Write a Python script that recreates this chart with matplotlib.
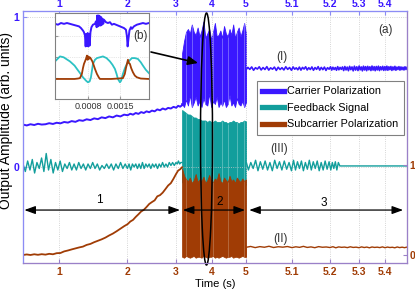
import numpy as np
import matplotlib
matplotlib.use('Agg')
import matplotlib.pyplot as plt
from matplotlib.lines import Line2D
from matplotlib.patches import Ellipse

plt.rcParams['font.family'] = ['Liberation Sans', 'DejaVu Sans']

blue = '#3a17ff'
teal = '#129e9c'
brown = '#a03c05'
teal_in = '#2cc2c4'

# the time axis of the original figure is stretched piecewise
t_knots = [0.47, 1, 2, 3, 4, 5, 5.1, 5.2, 5.3, 5.4, 5.49]
px_knots = [23, 59, 127, 176, 212, 246, 292, 330, 359, 385, 407]

def fwd(t):
    return np.interp(t, t_knots, px_knots)

def inv(p):
    return np.interp(p, px_knots, t_knots)

xticks = [1, 2, 3, 4, 5, 5.1, 5.2, 5.3, 5.4]
xlabels = ['1', '2', '3', '4', '5', '5.1', '5.2', '5.3', '5.4']

# ---- region 1 (slow build up), t = 0.47 .. 3.17
t1 = np.linspace(0.47, 3.17, 50)
t1f = np.linspace(0.47, 3.17, 80)
carrier_1 = [0.283, 0.277, 0.285, 0.280, 0.288, 0.283, 0.285, 0.292, 0.287, 0.295,
             0.291, 0.300, 0.296, 0.306, 0.301, 0.312, 0.308, 0.318, 0.313, 0.324,
             0.319, 0.331, 0.326, 0.337, 0.331, 0.343, 0.337, 0.349, 0.345, 0.355,
             0.349, 0.360, 0.354, 0.366, 0.360, 0.371, 0.365, 0.376, 0.371, 0.384,
             0.378, 0.390, 0.383, 0.394, 0.390, 0.401, 0.395, 0.408, 0.402, 0.412]
feedback_1 = [0.02, -0.03, 0.04, -0.02, 0.05, -0.04, 0.03, -0.01, 0.06, -0.03,
              0.09, -0.02, 0.05, -0.04, 0.03, -0.02, 0.04, -0.03, 0.02, -0.01,
              0.03, -0.02, 0.02, -0.02, 0.03, -0.01, 0.02, -0.02, 0.02, -0.01,
              0.03, -0.01, 0.02, -0.02, 0.01, -0.01, 0.02, -0.01, 0.02, -0.02,
              0.02, -0.01, 0.03, -0.01, 0.02, -0.01, 0.02, -0.02, 0.02, 0.00,
              0.02, -0.01, 0.02, -0.01, 0.03, -0.01, 0.02, 0.00, 0.02, -0.01,
              0.02, 0.00, 0.02, -0.01, 0.02, 0.00, 0.03, 0.00, 0.02, 0.00,
              0.03, 0.01, 0.03, 0.01, 0.03, 0.02, 0.04, 0.02, 0.03, 0.03]
subcarrier_1 = [0.000, 0.006, 0.000, 0.008, 0.002, 0.009, 0.004, 0.013, 0.008, 0.020,
                0.022, 0.040, 0.050, 0.062, 0.073, 0.084, 0.093, 0.112, 0.123, 0.142,
                0.158, 0.174, 0.193, 0.217, 0.238, 0.264, 0.292, 0.320, 0.343, 0.372,
                0.390, 0.423, 0.452, 0.483, 0.502, 0.533, 0.567, 0.588, 0.607, 0.652,
                0.665, 0.693, 0.732, 0.772, 0.798, 0.848, 0.902, 0.938, 0.952, 0.975]

# ---- region 2 (strong oscillation), t = 3.17 .. 5.0 : upper / lower swing
t2 = np.linspace(3.17, 5.0, 35)
carrier_2_hi = [0.76, 0.84, 0.90, 0.92, 0.89, 0.95, 0.90, 0.88, 0.93, 0.87, 0.91, 0.97,
                0.86, 0.89, 0.92, 0.85, 0.90, 0.96, 0.87, 0.88, 0.91, 0.86, 0.94, 0.89,
                0.87, 0.92, 0.88, 0.95, 0.86, 0.90, 0.93, 0.87, 0.91, 0.96, 0.89]
carrier_2_lo = [0.42, 0.40, 0.45, 0.41, 0.48, 0.40, 0.43, 0.47, 0.41, 0.44, 0.40, 0.46,
                0.42, 0.41, 0.49, 0.40, 0.44, 0.42, 0.47, 0.40, 0.43, 0.41, 0.45, 0.40,
                0.42, 0.48, 0.41, 0.43, 0.40, 0.46, 0.42, 0.41, 0.44, 0.40, 0.43]
feedback_2_hi = [0.38, 0.37, 0.36, 0.35, 0.35, 0.34, 0.33, 0.33, 0.32, 0.32, 0.31, 0.31,
                 0.31, 0.30, 0.31, 0.30, 0.30, 0.31, 0.30, 0.30, 0.30, 0.31, 0.30, 0.30,
                 0.29, 0.30, 0.30, 0.31, 0.30, 0.30, 0.29, 0.30, 0.30, 0.31, 0.30]
feedback_2_lo = [-0.10, -0.12, -0.11, -0.12, -0.13, -0.11, -0.12, -0.12, -0.11, -0.13,
                 -0.12, -0.11, -0.12, -0.13, -0.12, -0.11, -0.12, -0.12, -0.13, -0.11,
                 -0.12, -0.12, -0.11, -0.13, -0.12, -0.12, -0.11, -0.12, -0.13, -0.12,
                 -0.11, -0.12, -0.12, -0.13, -0.12]
subcarrier_2_hi = [0.96, 0.88, 0.84, 0.82, 0.86, 0.80, 0.83, 0.90, 0.81, 0.84, 0.82, 0.87,
                   0.80, 0.83, 0.89, 0.82, 0.81, 0.85, 0.83, 0.91, 0.82, 0.80, 0.86, 0.83,
                   0.81, 0.88, 0.82, 0.84, 0.80, 0.86, 0.83, 0.81, 0.85, 0.82, 0.84]
subcarrier_2_lo = [-0.02, -0.03, -0.01, -0.02, -0.03, -0.02, -0.01, -0.03, -0.02, -0.02,
                   -0.03, -0.01, -0.02, -0.03, -0.02, -0.02, -0.01, -0.03, -0.02, -0.03,
                   -0.02, -0.01, -0.02, -0.03, -0.02, -0.02, -0.01, -0.03, -0.02, -0.02,
                   -0.03, -0.02, -0.01, -0.02, -0.02]
# a few lighter streaks inside the oscillating band
streak_idx = [2, 5, 9, 12, 16, 21, 24, 29, 33]

# ---- region 3 (locked), t = 5.0 .. 5.49
t3c = np.linspace(5.0, 5.49, 120)
carrier_3 = [0.648, 0.664, 0.651, 0.667, 0.645, 0.662, 0.653, 0.668, 0.647, 0.663,
             0.650, 0.669, 0.646, 0.661, 0.652, 0.666, 0.644, 0.665, 0.650, 0.662,
             0.647, 0.668, 0.651, 0.663, 0.645, 0.667, 0.652, 0.661, 0.648, 0.666,
             0.646, 0.664, 0.653, 0.668, 0.647, 0.662, 0.650, 0.667, 0.645, 0.663,
             0.651, 0.669, 0.646, 0.664, 0.649, 0.666, 0.644, 0.662, 0.652, 0.668,
             0.646, 0.665, 0.650, 0.663, 0.645, 0.669, 0.648, 0.664, 0.651, 0.667,
             0.643, 0.670, 0.647, 0.666, 0.642, 0.671, 0.649, 0.667, 0.641, 0.672,
             0.646, 0.668, 0.643, 0.673, 0.648, 0.667, 0.641, 0.672, 0.647, 0.669,
             0.642, 0.671, 0.648, 0.668, 0.643, 0.673, 0.646, 0.669, 0.642, 0.670,
             0.647, 0.672, 0.643, 0.668, 0.648, 0.671, 0.644, 0.669, 0.646, 0.672,
             0.645, 0.668, 0.649, 0.670, 0.644, 0.667, 0.648, 0.671, 0.645, 0.666,
             0.650, 0.669, 0.646, 0.667, 0.649, 0.665, 0.647, 0.668, 0.650, 0.664]
t3f = np.linspace(5.0, 5.234, 46)
feedback_3 = [0.04, -0.02, 0.03, -0.01, 0.045, -0.025, 0.035, -0.015, 0.04, -0.02,
              0.03, -0.025, 0.045, -0.01, 0.035, -0.02, 0.04, -0.015, 0.03, -0.025,
              0.045, -0.02, 0.035, -0.01, 0.04, -0.025, 0.03, -0.015, 0.045, -0.02,
              0.035, -0.01, 0.04, -0.025, 0.03, -0.02, 0.04, -0.015, 0.035, -0.02,
              0.03, -0.01, 0.035, -0.02, 0.03, 0.007]
t3f_flat = [5.234, 5.49]
feedback_3_flat = [0.007, 0.007]
t3s = np.linspace(5.0, 5.49, 50)
subcarrier_3 = [0.085, 0.095, 0.082, 0.093, 0.086, 0.097, 0.083, 0.092, 0.087, 0.094,
                0.082, 0.091, 0.085, 0.096, 0.084, 0.090, 0.081, 0.093, 0.086, 0.089,
                0.083, 0.092, 0.080, 0.090, 0.085, 0.088, 0.082, 0.091, 0.084, 0.087,
                0.081, 0.090, 0.083, 0.088, 0.080, 0.089, 0.084, 0.087, 0.082, 0.090,
                0.081, 0.088, 0.083, 0.086, 0.080, 0.089, 0.082, 0.087, 0.081, 0.088]

# ---- inset (b): time in microseconds, normalised amplitudes
ins_t_carrier = [72, 138, 203, 269, 334, 400, 465, 531, 597, 640, 684, 706, 728, 743, 757,
                 772, 787, 800, 815, 830, 848, 870, 903, 947, 968, 984, 997, 1012, 1028,
                 1041, 1056, 1071, 1084, 1100, 1115, 1128, 1143, 1187, 1231, 1275, 1318,
                 1362, 1406, 1450, 1494, 1537, 1581, 1625, 1647, 1662, 1680, 1702, 1734,
                 1756, 1800, 1865, 1931, 1997, 2063, 2128]
ins_carrier = [0.90, 0.89, 0.91, 0.90, 0.91, 0.90, 0.89, 0.88, 0.87, 0.85, 0.82, 0.80,
               0.76, 0.63, 0.78, 0.64, 0.79, 0.63, 0.78, 0.64, 0.80, 0.86, 0.89, 0.90,
               0.93, 0.86, 1.00, 0.87, 1.00, 0.88, 0.99, 0.88, 0.98, 0.89, 0.96, 0.90,
               0.95, 0.92, 0.91, 0.92, 0.89, 0.90, 0.89, 0.88, 0.87, 0.86, 0.85, 0.83,
               0.75, 0.63, 0.72, 0.82, 0.86, 0.84, 0.87, 0.89, 0.90, 0.91, 0.90, 0.91]
ins_t_feedback = [72, 181, 260, 400, 500, 553, 620, 684, 750, 793, 830, 859, 881, 903,
                  947, 990, 1056, 1122, 1200, 1275, 1330, 1384, 1420, 1450, 1494, 1520,
                  1559, 1603, 1647, 1700, 1756, 1820, 1887, 1950, 1997, 2060, 2128]
ins_feedback = [0.45, 0.51, 0.50, 0.45, 0.40, 0.36, 0.31, 0.26, 0.22, 0.20, 0.21, 0.26,
                0.34, 0.42, 0.47, 0.49, 0.50, 0.51, 0.49, 0.45, 0.41, 0.36, 0.30, 0.24,
                0.20, 0.22, 0.30, 0.37, 0.42, 0.46, 0.49, 0.49, 0.48, 0.44, 0.40, 0.35,
                0.31]
ins_t_sub = [72, 200, 350, 500, 575, 618, 660, 684, 706, 728, 750, 772, 785, 800, 815,
             830, 850, 870, 890, 910, 947, 990, 1030, 1056, 1150, 1300, 1450, 1559, 1600,
             1625, 1647, 1669, 1690, 1712, 1740, 1778, 1820, 1865, 1950, 2128]
ins_sub = [0.24, 0.24, 0.24, 0.24, 0.245, 0.25, 0.30, 0.37, 0.42, 0.45, 0.48, 0.52,
           0.47, 0.51, 0.48, 0.50, 0.49, 0.47, 0.45, 0.42, 0.36, 0.30, 0.26, 0.24, 0.24,
           0.24, 0.245, 0.25, 0.30, 0.37, 0.42, 0.47, 0.43, 0.42, 0.37, 0.32, 0.28, 0.26,
           0.245, 0.24]


def pick(a, idx):
    return np.asarray(a)[idx]


fig = plt.figure(figsize=(4.15, 2.89), dpi=100)
ax = fig.add_axes([23/415, 1-263/289, 384/415, 252/289])
ax.set_xscale('function', functions=(fwd, inv))
ax.set_xlim(0.47, 5.49)
ax.set_ylim(-0.64, 1.04)

# carrier
ax.plot(t1, carrier_1, color=blue, lw=1.4)
ax.fill_between(t2, carrier_2_lo, carrier_2_hi, color=blue, lw=0.6, ec=blue)
ax.vlines(pick(t2, streak_idx), pick(carrier_2_lo, streak_idx),
          pick(carrier_2_hi, streak_idx), color='#8a7cff', lw=0.5)
ax.plot(np.r_[t1[-1], t2[0]], [carrier_1[-1], carrier_2_lo[0]], color=blue, lw=1.2)
ax.plot(np.r_[t2[-1], t3c], np.r_[carrier_2_lo[-1], carrier_3], color=blue, lw=1.2)

# feedback
ax.plot(t1f, feedback_1, color=teal, lw=1.0)
ax.fill_between(t2, feedback_2_lo, feedback_2_hi, color=teal, lw=0.6, ec=teal)
ax.vlines(pick(t2, streak_idx), pick(feedback_2_lo, streak_idx),
          pick(feedback_2_hi, streak_idx), color='#6cc6c4', lw=0.5)
ax.plot(np.r_[t2[-1], t3f, t3f_flat], np.r_[feedback_2_hi[-1], feedback_3, feedback_3_flat],
        color=teal, lw=1.0)

axr = ax.twinx()
axr.set_ylim(-0.089, 2.711)
axr.plot(t1, subcarrier_1, color=brown, lw=1.3)
axr.fill_between(t2, subcarrier_2_lo, subcarrier_2_hi, color=brown, lw=0.6, ec=brown)
axr.vlines(pick(t2, streak_idx[::2]), pick(subcarrier_2_lo, streak_idx[::2]),
           pick(subcarrier_2_hi, streak_idx[::2]), color='#c48a66', lw=0.4)
axr.plot(np.r_[t2[-1], t3s], np.r_[subcarrier_2_lo[-1], subcarrier_3], color=brown, lw=1.0)

axt = ax.twiny()
axt.set_xscale('function', functions=(fwd, inv))
axt.set_xlim(0.47, 5.49)

bold = dict(fontsize=7.5, fontweight='bold')
ax.set_xticks(xticks)
ax.set_xticklabels(xlabels, color=brown, **bold)
axt.set_xticks(xticks)
axt.set_xticklabels(xlabels, color=blue, **bold)
ax.set_yticks([0, 1])
ax.set_yticklabels(['0', '1'], color=blue, **bold)
axr.set_yticks([0, 1])
axr.set_yticklabels(['0', '1'], color=brown, **bold)
ax.tick_params(axis='x', direction='in', length=3, pad=3, color='#9a80c8')
axt.tick_params(axis='x', direction='in', length=3, pad=1.5, color='#8c8cf5')
ax.tick_params(axis='y', direction='in', length=3, pad=2.5, color='#8c8cf5')
axr.tick_params(axis='y', direction='in', length=3, pad=2, color='#9a80c8')
ax.grid(True, ls=':', color='#c8c8c8', lw=0.6)

for a in (ax, axr, axt):
    a.spines['top'].set_color('#8c8cf5')
    a.spines['left'].set_color('#8c8cf5')
    a.spines['bottom'].set_color('#9a80c8')
    a.spines['right'].set_color('#9a80c8')

ax.set_xlabel('Time (s)', fontsize=8)
ax.xaxis.set_label_coords(0.5, -0.065)
ax.set_ylabel('Output Amplitude (arb. units)', fontsize=10)
ax.yaxis.set_label_coords(-0.025, 0.567)

# annotations, in (time, left-axis) coordinates on the top axes
arrow_kw = dict(arrowstyle='<|-|>,head_length=0.55,head_width=0.2', color='k', lw=0.9,
                mutation_scale=12, shrinkA=0, shrinkB=0)
for t_a, t_b in [(0.49, 3.11), (3.19, 4.97), (5.007, 5.474)]:
    axt.annotate('', xy=(t_b, -0.287), xytext=(t_a, -0.287), arrowprops=arrow_kw)
axt.text(1.60, -0.22, '1', fontsize=8.5, ha='center', va='center')
axt.text(4.24, -0.233, '2', fontsize=8.5, ha='center', va='center')
axt.text(5.184, -0.24, '3', fontsize=8.5, ha='center', va='center')
axt.text(5.078, 0.733, '(I)', fontsize=8.5, ha='center', va='center', color='#333333')
axt.text(5.072, 0.12, '(III)', fontsize=8.5, ha='center', va='center', color='#333333')
axt.text(5.076, -0.48, '(II)', fontsize=8.5, ha='center', va='center', color='#333333')
axt.text(5.404, 0.913, '(a)', fontsize=8.5, ha='center', va='center', color='#333333')

ell = Ellipse(((206.5-23)/384, (263-139)/252), 12/384, 252/252, transform=axt.transAxes,
              fill=False, ec='k', lw=1.1, clip_on=False)
axt.add_patch(ell)
axt.annotate('', xy=(198, 289-63), xytext=(151, 289-52), xycoords='figure pixels',
             textcoords='figure pixels',
             arrowprops=dict(arrowstyle='-|>,head_length=0.5,head_width=0.22', color='k',
                             lw=1.2, mutation_scale=12, shrinkA=0, shrinkB=0))

handles = [Line2D([], [], color=blue, lw=3.8),
           Line2D([], [], color=teal, lw=3.8),
           Line2D([], [], color=brown, lw=3.8)]
labels = ['Carrier Polarization', 'Feedback Signal', 'Subcarrier Polarization']
leg = axt.legend(handles, labels, loc='upper right', bbox_to_anchor=(404/415, 1-81/289),
                 bbox_transform=fig.transFigure, fontsize=7.8, fancybox=False,
                 edgecolor='#808080', framealpha=1, borderaxespad=0, borderpad=0.5,
                 labelspacing=0.6, handlelength=2.0, handletextpad=0.3)
leg.get_frame().set_linewidth(0.8)

# inset (b)
axi = fig.add_axes([55/415, 1-99/289, 94/415, 86/289])
axi.plot(ins_t_carrier, ins_carrier, color=blue, lw=1.4)
axi.plot(ins_t_feedback, ins_feedback, color=teal_in, lw=1.3)
axi.plot(ins_t_sub, ins_sub, color=brown, lw=1.3)
axi.set_xlim(72, 2130)
axi.set_ylim(0, 1.03)
axi.set_xticks([800, 1500])
axi.set_xticklabels(['0.0008', '0.0015'], fontsize=6.5, color='#333333')
axi.set_yticks([0.25, 0.5, 0.75])
axi.set_yticklabels([])
axi.tick_params(direction='in', length=2, pad=2, color='#999999')
axi.grid(True, ls=':', color='#d0d0d0', lw=0.5)
for s in axi.spines.values():
    s.set_color('#808080')
axi.text(1953, 0.756, '(b)', fontsize=8.5, ha='center', va='center', color='#333333')

fig.savefig('out.png', dpi=100)
